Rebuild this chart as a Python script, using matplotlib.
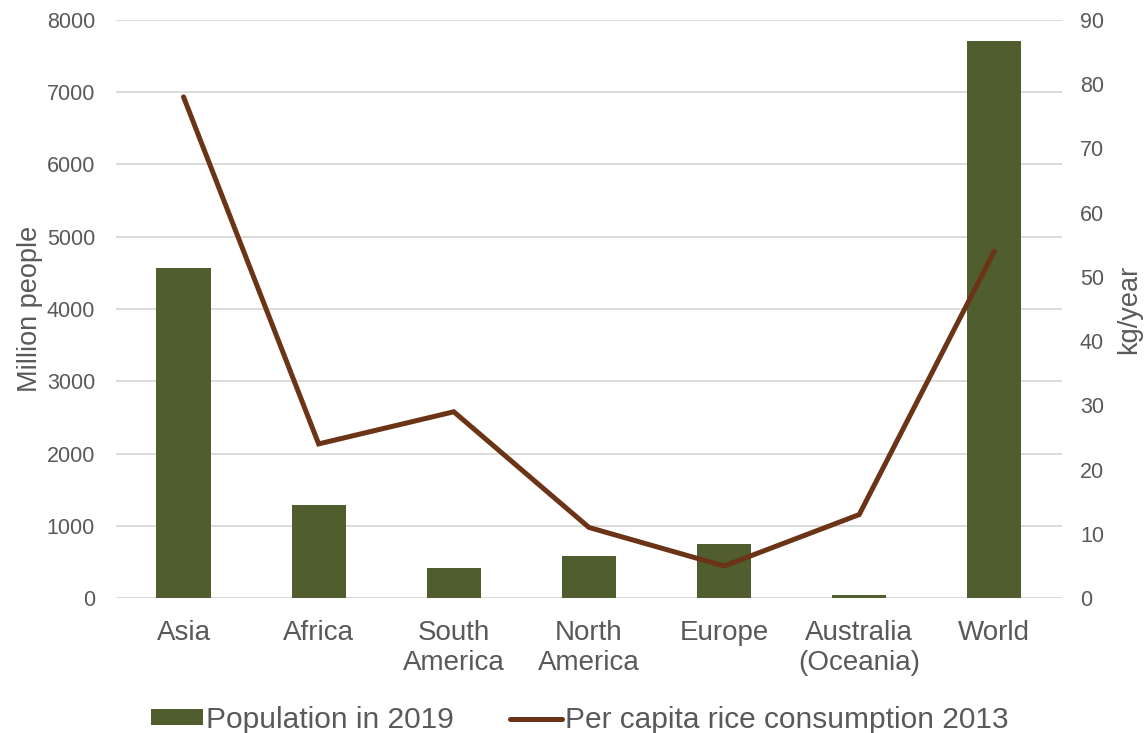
import numpy as np
import matplotlib.pyplot as plt

plt.rcParams['font.family'] = ['Liberation Sans', 'DejaVu Sans']

regions = ['Asia', 'Africa', 'South\nAmerica', 'North\nAmerica', 'Europe',
           'Australia\n(Oceania)', 'World']
population_2019 = [4560, 1290, 420, 580, 745, 42, 7700]   # million people
rice_per_capita_2013 = [78, 24, 29, 11, 5, 13, 54]       # kg/year

bar_color = '#4F5D2F'
line_color = '#6B3416'
text_color = '#595959'
grid_color = '#D9D9D9'

fig = plt.figure(figsize=(11.48, 7.33), dpi=100)
ax = fig.add_axes([0.101, 0.184, 0.824, 0.789])
ax2 = ax.twinx()

x = np.arange(len(regions))
ax.bar(x, population_2019, width=0.4, color=bar_color, zorder=2,
       label='Population in 2019')
ax2.plot(x, rice_per_capita_2013, color=line_color, lw=3.6,
         solid_capstyle='round', solid_joinstyle='miter',
         label='Per capita rice consumption 2013')

ax.set_xlim(-0.5, len(regions) - 0.5)
ax.set_ylim(0, 8000)
ax.set_yticks(np.arange(0, 8001, 1000))
ax2.set_ylim(0, 90)
ax2.set_yticks(np.arange(0, 91, 10))

ax.yaxis.grid(True, color=grid_color, lw=1.3, zorder=0)
ax.set_axisbelow(True)
for a in (ax, ax2):
    for s in a.spines.values():
        s.set_visible(False)
ax.axhline(0, color=grid_color, lw=1.3, zorder=1)

ax.set_xticks(x)
ax.set_xticklabels(regions, fontsize=20, color=text_color, linespacing=1.2)
ax.tick_params(axis='x', length=0, pad=16)
ax.tick_params(axis='y', length=0, pad=15, labelsize=15.5, labelcolor=text_color)
ax2.tick_params(axis='y', length=0, pad=13, labelsize=15.5, labelcolor=text_color)

ax.set_ylabel('Million people', fontsize=19.5, color=text_color, labelpad=3)
ax2.set_ylabel('kg/year', fontsize=19.5, color=text_color, labelpad=9)

h1, l1 = ax.get_legend_handles_labels()
h2, l2 = ax2.get_legend_handles_labels()
fig.legend(h1 + h2, l1 + l2, loc='lower center', bbox_to_anchor=(0.505, -0.038),
           ncol=2, frameon=False, fontsize=21.5, labelcolor=text_color,
           handlelength=1.72, handleheight=0.45, handletextpad=0.1,
           columnspacing=1.9)

fig.savefig('out.png', dpi=100)
